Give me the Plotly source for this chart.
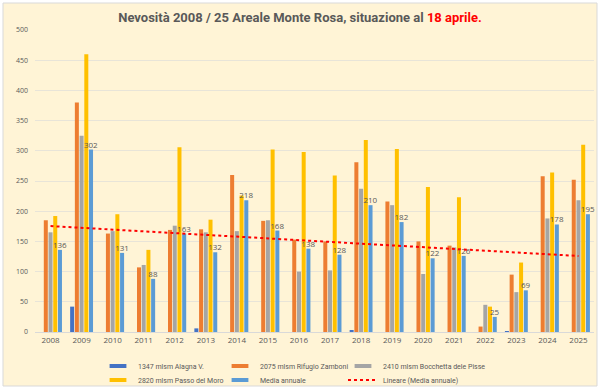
import numpy as np
import plotly.graph_objects as go

years = [str(y) for y in range(2008, 2026)]
alagna = [0, 42, 0, 0, 0, 6, 0, 0, 0, 0, 2, 0, 0, 0, 0, 1, 0, 0]
zamboni = [185, 380, 163, 107, 169, 170, 260, 184, 153, 150, 281, 216, 150, 143, 9, 95, 258, 252]
bocchetta = [165, 325, 167, 111, 176, 165, 167, 185, 100, 102, 237, 210, 96, 140, 45, 66, 188, 218]
moro = [192, 460, 195, 136, 306, 186, 226, 302, 298, 259, 318, 303, 240, 223, 42, 115, 264, 310]
media = [136, 302, 131, 88, 163, 132, 218, 168, 138, 128, 210, 182, 122, 126, 25, 69, 178, 195]

names = ["1347 mlsm Alagna V.", "2075 mlsm Rifugio Zamboni", "2410 mlsm Bocchetta dele Pisse",
         "2820 mlsm Passo del Moro", "Media annuale"]
trend_name = "Lineare (Media annuale)"
colors = ["#4472C4", "#ED7D31", "#A5A5A5", "#FFC000", "#5B9BD5"]
series = [alagna, zamboni, bocchetta, moro, media]

xi = np.arange(len(media))
slope, intercept = np.polyfit(xi, media, 1)
trend = slope * xi + intercept

fig = go.Figure()
for i, (nm, col, vals) in enumerate(zip(names, colors, series)):
    kw = {}
    if i == 4:
        kw = dict(text=[str(v) for v in vals], textposition="outside",
                  textfont=dict(size=8, color="#595959"), constraintext="none",
                  cliponaxis=False)
    fig.add_trace(go.Bar(x=years, y=vals, name=nm, marker_color=col,
                         marker_line_width=0, showlegend=False, **kw))

fig.add_trace(go.Scatter(x=years, y=trend, mode="lines", name=trend_name,
                         line=dict(color="#FF0000", width=2, dash="dot"), showlegend=False))

W, H = 600, 389
# legend proxies: one legend per entry, laid out in 3 columns x 2 rows
leg_ids = ["legend", "legend2", "legend3", "legend4", "legend5", "legend6"]
leg_x = [98, 220, 343, 98, 220, 343]
leg_y = [366, 366, 366, 380, 380, 380]
for k, (nm, col) in enumerate(zip(names, colors)):
    fig.add_trace(go.Scatter(x=[None], y=[None], mode="markers", name=nm,
                             marker=dict(symbol="line-ew", size=12, color=col,
                                         line=dict(width=4, color=col)),
                             legend=leg_ids[k]))
fig.add_trace(go.Scatter(x=[None], y=[None], mode="lines", name=trend_name,
                         line=dict(color="#FF0000", width=2, dash="dot"), legend=leg_ids[5]))

ml, mr, mt, mb = 35, 6, 30, 57
pw, ph = W - ml - mr, H - mt - mb
def px(x):
    return (x - ml) / pw
def py(y):
    return (H - mb - y) / ph

fig.add_shape(type="rect", xref="paper", yref="paper", x0=px(3), x1=px(597), y0=py(386), y1=py(3),
              fillcolor="#FFF4D6", line=dict(color="#D9D9D9", width=1), layer="below")

legfont = dict(size=7, color="#595959", family="Roboto")
legends = {}
for lid, lx, ly in zip(leg_ids, leg_x, leg_y):
    legends[lid] = dict(orientation="h", xref="container", yref="container", x=lx / W, y=1 - ly / H,
                        xanchor="left", yanchor="middle", font=legfont,
                        bgcolor="rgba(0,0,0,0)", itemwidth=30, itemsizing="trace")

fig.update_layout(
    width=W, height=H,
    margin=dict(l=ml, r=mr, t=mt, b=mb, autoexpand=False),
    paper_bgcolor="white", plot_bgcolor="rgba(0,0,0,0)",
    font=dict(family="Open Sans", color="#595959"),
    title=dict(text="<b>Nevosità 2008 / 25 Areale Monte Rosa, situazione al <span style='color:#FF0000'>18 aprile.</span></b>",
               x=0.5, xanchor="center", y=1 - 17 / H, yanchor="middle",
               font=dict(size=13, color="#595959", family="Roboto")),
    barmode="group", bargap=0.24, bargroupgap=0.15,
    xaxis=dict(type="category", showgrid=False, showline=True, linecolor="#D9D9D9", linewidth=1,
               ticks="", tickfont=dict(size=8, color="#595959")),
    yaxis=dict(range=[0, 500], tickvals=list(range(0, 501, 50)), showgrid=True,
               gridcolor="#E8E4D8", gridwidth=1, zeroline=False, showline=False,
               ticks="", ticklabelstandoff=6, tickfont=dict(size=7, color="#595959")),
    **legends,
)

fig.write_html("out.html", config={"displayModeBar": False},
               post_script="document.body.style.margin='0';document.body.style.overflow='hidden';")
